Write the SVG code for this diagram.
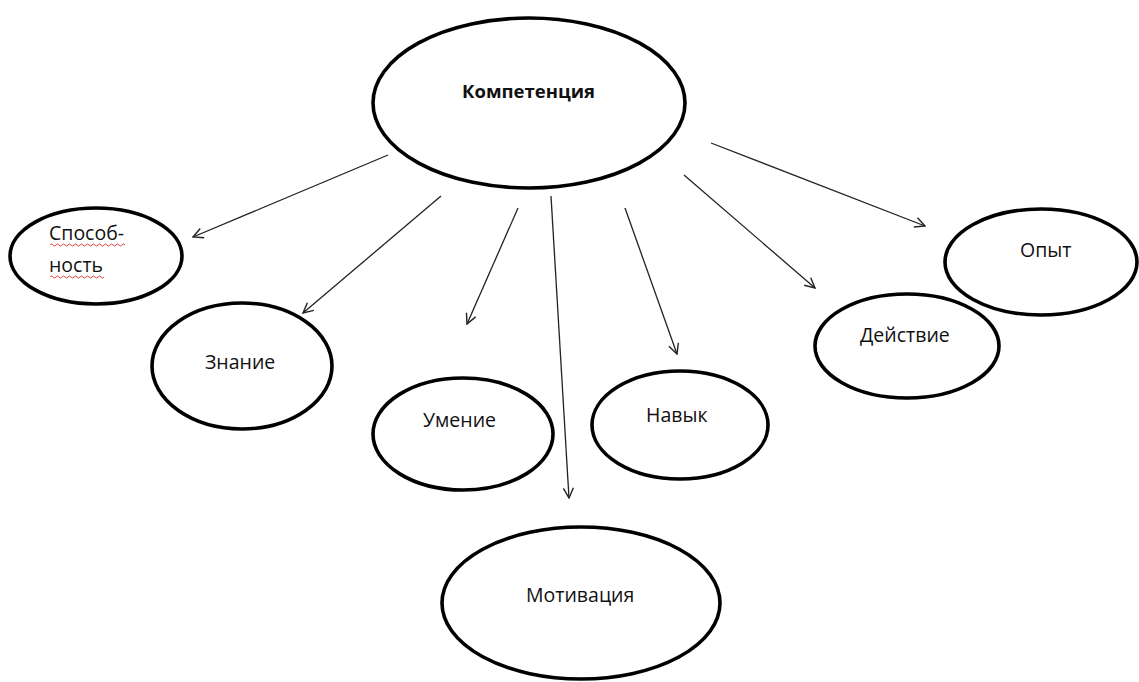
<svg xmlns="http://www.w3.org/2000/svg" width="1139" height="682" viewBox="0 0 1139 682">
<style>
.node ellipse{fill:#fff;stroke:#000;stroke-width:3.6}
.lbl{font-family:"Open Sans","Liberation Sans",sans-serif;font-size:19.5px;fill:#111}
.bold{font-weight:bold;font-size:18.5px}
.conn line{stroke:#222;stroke-width:1.3;marker-end:url(#arr)}
.squig{fill:none;stroke:#e03030;stroke-width:0.9}
</style>
<defs>
<marker id="arr" viewBox="0 0 12 12" refX="11" refY="6" markerWidth="12" markerHeight="12" markerUnits="userSpaceOnUse" orient="auto">
<path d="M1,1 L11,6 L1,11" fill="none" stroke="#222" stroke-width="1.4"/>
</marker>
</defs>
<rect width="1139" height="682" fill="#fff"/>
<g id="connectors" class="conn">
<line x1="388" y1="155" x2="193" y2="237"/>
<line x1="441" y1="196" x2="303" y2="313"/>
<line x1="518" y1="208" x2="467" y2="324"/>
<line x1="551" y1="196" x2="569" y2="498"/>
<line x1="625" y1="208" x2="677" y2="354"/>
<line x1="684" y1="175" x2="815" y2="288"/>
<line x1="711" y1="143" x2="925" y2="226"/>
</g>
<g id="kompetentsiya" class="node">
<ellipse cx="529" cy="103" rx="156" ry="85"/>
<text class="lbl bold" x="462" y="98">Компетенция</text>
</g>
<g id="sposobnost" class="node">
<ellipse cx="96" cy="256" rx="86" ry="48"/>
<text class="lbl" x="49" y="240">Способ-</text>
<text class="lbl" x="49" y="272">ность</text>
<path class="squig" d="M50,245 q1.5,-2 3,0 t3,0 t3,0 t3,0 t3,0 t3,0 t3,0 t3,0 t3,0 t3,0 t3,0 t3,0 t3,0 t3,0 t3,0 t3,0 t3,0 t3,0 t3,0 t3,0 t3,0 t3,0 t3,0 t3,0 t3,0"/>
<path class="squig" d="M50,277 q1.5,-2 3,0 t3,0 t3,0 t3,0 t3,0 t3,0 t3,0 t3,0 t3,0 t3,0 t3,0 t3,0 t3,0 t3,0 t3,0 t3,0 t3,0 t3,0"/>
</g>
<g id="znanie" class="node">
<ellipse cx="242" cy="366" rx="90" ry="63"/>
<text class="lbl" x="205" y="369">Знание</text>
</g>
<g id="umenie" class="node">
<ellipse cx="463" cy="434" rx="90" ry="56"/>
<text class="lbl" x="423" y="427">Умение</text>
</g>
<g id="motivatsiya" class="node">
<ellipse cx="581" cy="603" rx="139" ry="76"/>
<text class="lbl" x="526" y="602">Мотивация</text>
</g>
<g id="navyk" class="node">
<ellipse cx="680" cy="425" rx="88" ry="54"/>
<text class="lbl" x="646" y="422">Навык</text>
</g>
<g id="deystvie" class="node">
<ellipse cx="907" cy="346" rx="92" ry="52"/>
<text class="lbl" x="860" y="342">Действие</text>
</g>
<g id="opyt" class="node">
<ellipse cx="1041" cy="262" rx="96" ry="53"/>
<text class="lbl" x="1020" y="257">Опыт</text>
</g>
</svg>
